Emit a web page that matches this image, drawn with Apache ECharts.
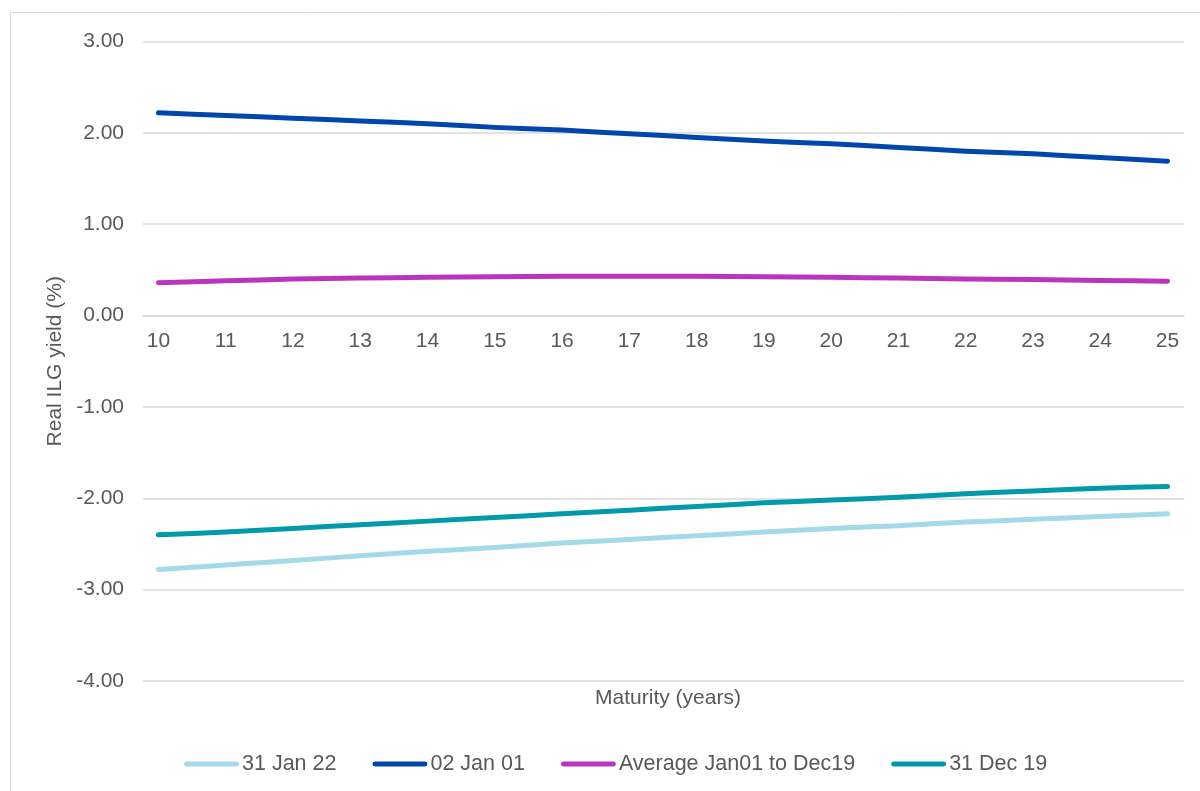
<!DOCTYPE html>
<html>
<head>
<meta charset="utf-8">
<script src="https://cdn.jsdelivr.net/npm/echarts@6/dist/echarts.min.js"></script>
<style>
  html, body { margin: 0; padding: 0; background: #ffffff; }
  #chart { width: 1200px; height: 791px; }
</style>
</head>
<body>
<div id="chart"></div>
<script>
// Maturities in years
const maturities = [10, 11, 12, 13, 14, 15, 16, 17, 18, 19, 20, 21, 22, 23, 24, 25];

// Real ILG yield curves (%)
const jan22 = [-2.78, -2.73, -2.68, -2.63, -2.58, -2.54, -2.49, -2.45, -2.41, -2.37, -2.33, -2.30, -2.26, -2.23, -2.20, -2.17];
const jan01 = [2.22, 2.19, 2.16, 2.13, 2.10, 2.06, 2.03, 1.99, 1.95, 1.91, 1.88, 1.84, 1.80, 1.77, 1.73, 1.69];
const avg01to19 = [0.36, 0.38, 0.40, 0.41, 0.42, 0.425, 0.43, 0.43, 0.43, 0.425, 0.42, 0.41, 0.40, 0.395, 0.385, 0.375];
const dec19 = [-2.40, -2.37, -2.33, -2.29, -2.25, -2.21, -2.17, -2.13, -2.09, -2.05, -2.02, -1.99, -1.95, -1.92, -1.89, -1.87];

const seriesNames = ['31 Jan 22', '02 Jan 01', 'Average Jan01 to Dec19', '31 Dec 19'];
const seriesColors = ['#a3d9e8', '#0046ad', '#b935be', '#009aaa'];
const seriesValues = [jan22, jan01, avg01to19, dec19];

// y-axis tick values
const yTicks = [-4, -3, -2, -1, 0, 1, 2, 3];

const FONT = '"Liberation Sans", Arial, sans-serif';
const TEXT_COLOR = '#595959';
const GRID_COLOR = '#d9d9d9';
const FONT_SIZE = 21;

// plot area
const GRID = { left: 143, right: 16, top: 41.5, bottom: 110 };
const CHART_H = 791;
const yMin = yTicks[0];
const yMax = yTicks[yTicks.length - 1];
// lift the maturity labels from the bottom edge up to the zero line
const plotH = CHART_H - GRID.top - GRID.bottom;
const zeroLift = -plotH * (0 - yMin) / (yMax - yMin);

const chart = echarts.init(document.getElementById('chart'), null, { renderer: 'canvas' });

const legendIcon = 'path://M2,0 L53,0 A2.5,2.5 0 0 1 53,5 L2,5 A2.5,2.5 0 0 1 2,0 Z';

const option = {
  backgroundColor: '#ffffff',
  animation: false,
  textStyle: { fontFamily: FONT },
  graphic: [{
    type: 'rect',
    shape: { x: 10.5, y: 12.5, width: 1300, height: 900 },
    style: { fill: 'none', stroke: '#d9d9d9', lineWidth: 1 },
    silent: true,
    z: -10
  }],
  title: {
    text: 'Maturity (years)',
    left: 663,
    top: 683,
    textAlign: 'center',
    textStyle: { fontFamily: FONT, fontSize: FONT_SIZE, fontWeight: 'normal', color: TEXT_COLOR }
  },
  grid: Object.assign({ containLabel: false }, GRID),
  xAxis: {
    type: 'value',
    min: 9.77,
    max: 25.245,
    position: 'bottom',
    offset: zeroLift,
    axisLine: { show: true, onZero: false, lineStyle: { color: GRID_COLOR, width: 1.5 } },
    axisTick: { show: false },
    splitLine: { show: false },
    axisLabel: {
      customValues: maturities,
      color: TEXT_COLOR,
      fontSize: FONT_SIZE,
      fontFamily: FONT,
      margin: 15
    }
  },
  yAxis: {
    type: 'value',
    min: yMin,
    max: yMax,
    interval: 1,
    name: 'Real ILG yield (%)',
    nameLocation: 'middle',
    nameGap: 72,
    nameRotate: 90,
    nameTextStyle: { color: TEXT_COLOR, fontSize: FONT_SIZE, fontFamily: FONT },
    axisLine: { show: false, onZero: false },
    axisTick: { show: false },
    splitLine: { show: true, lineStyle: { color: GRID_COLOR, width: 1.5 } },
    axisLabel: {
      color: TEXT_COLOR,
      fontSize: FONT_SIZE,
      fontFamily: FONT,
      margin: 19,
      formatter: v => v.toFixed(2)
    }
  },
  legend: {
    top: 748,
    left: 179,
    itemWidth: 55,
    itemHeight: 5,
    itemGap: 36,
    icon: legendIcon,
    textStyle: { color: TEXT_COLOR, fontSize: 21.5, fontFamily: FONT, padding: [0, 0, 0, -2] },
    data: seriesNames
  },
  series: seriesNames.map((name, i) => ({
    name: name,
    type: 'line',
    data: maturities.map((m, j) => [m, seriesValues[i][j]]),
    smooth: 0.2,
    showSymbol: false,
    symbol: 'none',
    color: seriesColors[i],
    lineStyle: { color: seriesColors[i], width: 5, cap: 'round', join: 'round' }
  }))
};

chart.setOption(option);
</script>
</body>
</html>
